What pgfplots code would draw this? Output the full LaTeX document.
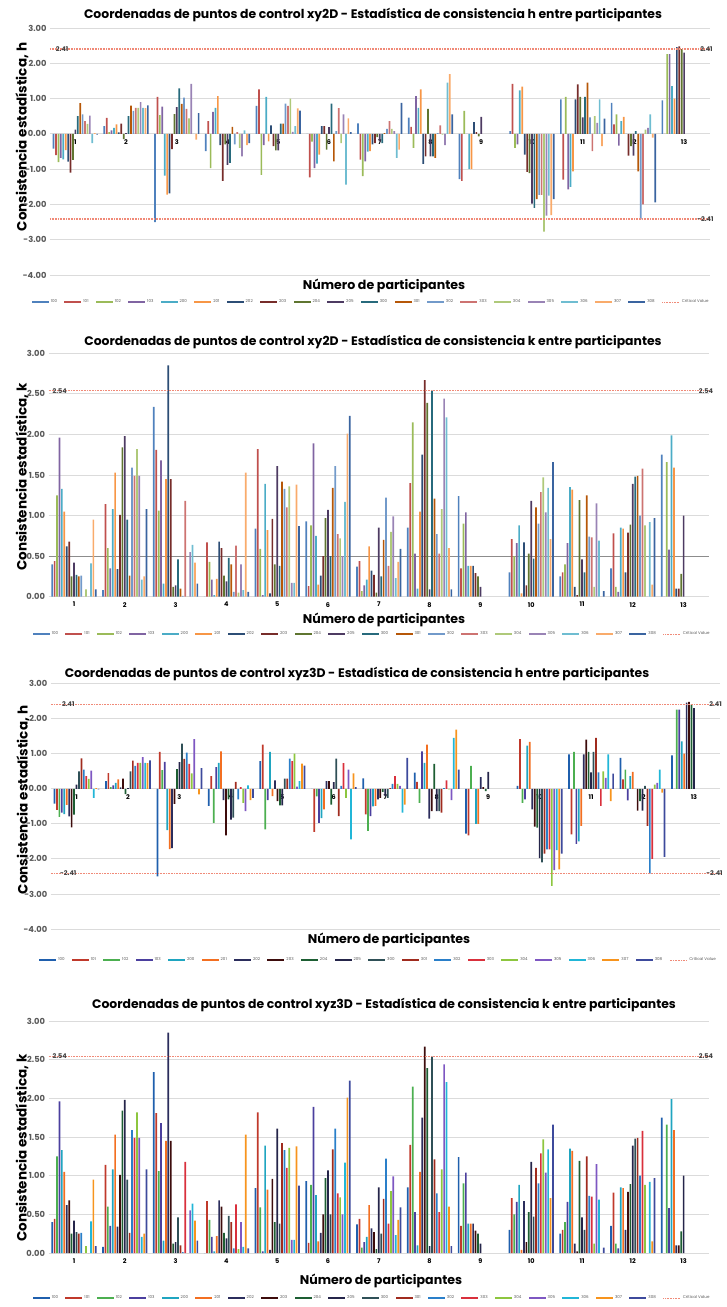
\documentclass[border=0pt]{standalone}
\usepackage{fontspec}
\setmainfont{Poppins}
\usepackage{pgfplots}
\usepackage{pgfplotstable}
\pgfplotsset{compat=1.18}

% palette A (panels 1 and 2)
\definecolor{a100}{HTML}{4F81BD}\definecolor{a101}{HTML}{C0504D}\definecolor{a102}{HTML}{9BBB59}
\definecolor{a103}{HTML}{8064A2}\definecolor{a200}{HTML}{4BACC6}\definecolor{a201}{HTML}{F79646}
\definecolor{a202}{HTML}{2C4D75}\definecolor{a203}{HTML}{772C2A}\definecolor{a204}{HTML}{5F7530}
\definecolor{a205}{HTML}{4D3B62}\definecolor{a300}{HTML}{276A7C}\definecolor{a301}{HTML}{B65708}
\definecolor{a302}{HTML}{729ACA}\definecolor{a303}{HTML}{CD7371}\definecolor{a304}{HTML}{AFC97A}
\definecolor{a305}{HTML}{9983B5}\definecolor{a306}{HTML}{6FBDD1}\definecolor{a307}{HTML}{F9AB6B}
\definecolor{a308}{HTML}{3A64A0}
% palette B (panels 3 and 4)
\definecolor{b100}{HTML}{1F5FAD}\definecolor{b101}{HTML}{C0392B}\definecolor{b102}{HTML}{4CAF50}
\definecolor{b103}{HTML}{4B3F9E}\definecolor{b200}{HTML}{1FA5C0}\definecolor{b201}{HTML}{F36F21}
\definecolor{b202}{HTML}{2B2D5C}\definecolor{b203}{HTML}{3D0C0C}\definecolor{b204}{HTML}{1D5E33}
\definecolor{b205}{HTML}{25254A}\definecolor{b300}{HTML}{2F5057}\definecolor{b301}{HTML}{A02B1E}
\definecolor{b302}{HTML}{2A7FC9}\definecolor{b303}{HTML}{D9303C}\definecolor{b304}{HTML}{8DC63F}
\definecolor{b305}{HTML}{7E57C2}\definecolor{b306}{HTML}{21B6D7}\definecolor{b307}{HTML}{F7941D}
\definecolor{b308}{HTML}{3D4A9C}
\definecolor{crit}{HTML}{F08A78}
\definecolor{ticktxt}{HTML}{595959}

\pgfplotstableread{
g s100 s101 s102 s103 s200 s201 s202 s203 s204 s205 s300 s301 s302 s303 s304 s305 s306 s307 s308
1 -0.42 -0.60 -0.80 -0.68 -0.72 -0.46 -0.79 -1.10 -0.74 0.12 0.50 0.87 0.55 0.36 0.28 0.52 -0.26 0.02 -0.02
2 0.22 0.45 0.05 0.10 0.17 0.27 0.04 0.29 -0.15 0.02 0.50 0.80 0.65 0.74 0.74 0.90 0.74 0.73 0.81
3 -2.50 1.05 0.53 0.77 -1.18 -1.72 -1.69 -0.43 0.56 0.76 1.29 0.85 1.03 0.71 0.44 1.42 0.00 -0.16 0.59
4 -0.49 0.36 -0.97 0.62 0.74 1.07 -0.32 -1.33 -0.30 -0.88 -0.82 0.20 -0.30 0.05 -0.40 -0.64 0.10 -0.32 -0.26
5 0.79 1.26 -1.16 -0.32 1.05 -0.21 0.24 -0.35 -0.47 -0.47 0.29 0.29 0.86 0.79 1.00 0.06 0.22 0.72 0.66
6 0.00 -1.23 -0.22 -0.97 -0.84 -0.59 0.22 0.22 -0.45 0.19 0.86 -0.78 0.08 0.73 -0.26 0.55 -1.44 0.44 0.05
7 0.30 -0.73 -1.20 -0.78 -0.50 -0.49 -0.30 -0.26 -0.09 -0.21 -0.26 0.02 0.14 0.36 0.14 0.08 -0.68 -0.45 0.88
8 0.46 0.20 -0.40 1.07 0.74 1.26 -0.85 -0.64 0.71 -0.64 -0.64 -0.68 0.02 0.24 -0.02 -0.32 1.45 1.69 0.55
9 -1.28 -1.33 0.65 0.00 -1.00 -1.00 0.33 0.05 -0.07 0.48 nan nan nan nan nan nan nan nan nan
10 0.08 1.42 -0.40 -0.30 1.23 1.34 -0.59 -1.08 -1.11 -1.98 -2.10 -1.85 -1.73 -1.73 -2.77 -2.32 -1.75 -2.30 -1.85
11 0.98 -1.30 1.05 -1.57 -1.50 -1.06 0.98 1.40 1.05 0.47 1.05 1.45 0.47 -0.49 0.50 0.31 0.98 -0.35 0.43
12 0.88 0.27 0.55 -0.33 0.36 0.48 0.00 -0.62 -0.35 -0.62 0.08 -1.06 -2.42 -2.00 0.12 0.17 0.55 -0.11 -1.94
13 0.95 0.00 2.26 2.26 1.35 1.00 2.46 2.48 2.40 2.30 nan nan nan nan nan nan nan nan nan
}\hdata

\pgfplotstableread{
g s100 s101 s102 s103 s200 s201 s202 s203 s204 s205 s300 s301 s302 s303 s304 s305 s306 s307 s308
1 0.40 0.44 1.25 1.96 1.33 1.05 0.62 0.68 0.25 0.42 0.27 0.25 0.26 0.00 0.09 0.00 0.41 0.95 0.09
2 0.08 1.14 0.60 0.35 1.08 1.53 0.34 1.01 1.84 1.98 0.95 0.26 1.59 1.49 1.82 1.49 0.21 0.25 1.08
3 2.34 1.81 1.06 1.68 0.16 1.45 2.85 1.45 0.12 0.14 0.46 0.10 0.01 1.18 0.00 0.55 0.64 0.42 0.16
4 0.00 0.67 0.43 0.21 0.02 0.22 0.68 0.60 0.26 0.19 0.48 0.40 0.06 0.63 0.05 0.40 0.08 1.53 0.06
5 0.84 1.82 0.59 0.02 1.39 0.82 0.04 0.96 0.40 1.61 0.38 1.42 1.33 1.10 1.36 0.17 0.17 1.38 0.87
6 0.93 0.13 0.88 1.89 0.75 0.15 0.26 0.50 0.97 1.07 0.50 1.34 1.61 0.77 0.72 0.50 1.17 2.01 2.23
7 0.37 0.44 0.07 0.14 0.21 0.62 0.32 0.27 0.05 0.85 0.25 0.70 1.22 0.38 0.80 0.99 0.23 0.43 0.59
8 0.85 1.40 2.15 0.53 0.10 1.05 1.75 2.67 2.39 0.09 2.54 1.21 0.77 0.53 1.08 2.44 2.21 0.60 0.09
9 1.24 0.35 0.90 1.04 0.38 0.38 0.38 0.29 0.25 0.12 nan nan nan nan nan nan nan nan nan
10 0.30 0.71 0.50 0.66 0.88 0.04 0.67 0.14 0.53 1.18 0.47 1.10 0.90 1.29 1.47 1.04 1.34 0.71 1.66
11 0.25 0.30 0.40 0.66 1.35 1.32 0.12 0.02 1.19 0.46 0.30 1.25 0.74 0.73 0.12 1.15 0.69 0.00 0.07
12 0.35 0.78 0.12 0.06 0.85 0.84 0.30 0.79 0.89 1.39 1.48 1.49 1.00 1.58 0.88 0.00 0.92 0.15 0.97
13 1.75 0.00 1.66 0.58 1.99 1.59 0.10 0.10 0.28 1.00 nan nan nan nan nan nan nan nan nan
}\kdata

\pgfplotscreateplotcyclelist{pala}{
{fill=a100,draw=none},{fill=a101,draw=none},{fill=a102,draw=none},{fill=a103,draw=none},
{fill=a200,draw=none},{fill=a201,draw=none},{fill=a202,draw=none},{fill=a203,draw=none},
{fill=a204,draw=none},{fill=a205,draw=none},{fill=a300,draw=none},{fill=a301,draw=none},
{fill=a302,draw=none},{fill=a303,draw=none},{fill=a304,draw=none},{fill=a305,draw=none},
{fill=a306,draw=none},{fill=a307,draw=none},{fill=a308,draw=none}}
\pgfplotscreateplotcyclelist{palb}{
{fill=b100,draw=none},{fill=b101,draw=none},{fill=b102,draw=none},{fill=b103,draw=none},
{fill=b200,draw=none},{fill=b201,draw=none},{fill=b202,draw=none},{fill=b203,draw=none},
{fill=b204,draw=none},{fill=b205,draw=none},{fill=b300,draw=none},{fill=b301,draw=none},
{fill=b302,draw=none},{fill=b303,draw=none},{fill=b304,draw=none},{fill=b305,draw=none},
{fill=b306,draw=none},{fill=b307,draw=none},{fill=b308,draw=none}}

\tikzset{vlab/.style={font=\fontsize{6.5}{7}\selectfont\bfseries, text=black!75}}
\pgfplotsset{
 panel/.style={
   scale only axis, xmin=0.5, xmax=13.5,
   ybar=0.72pt, bar width=1.7pt,
   axis x line=middle, axis y line=left, axis line style={draw=none},
   major tick length=0pt,
   xtick={1,...,13},
   /pgf/number format/assume math mode=true,
   xticklabel style={font=\fontsize{6.5}{7}\selectfont\bfseries, text=black, yshift=-2pt,
      /pgf/number format/assume math mode=true},
   yticklabel style={font=\fontsize{8.3}{9}\selectfont\bfseries, text=ticktxt,
      /pgf/number format/fixed, /pgf/number format/fixed zerofill,
      /pgf/number format/precision=2, /pgf/number format/assume math mode=true},
   ymajorgrids, grid style={draw=black!14, line width=0.8pt},
   legend style={draw=none, fill=none, font=\fontsize{4}{5}\selectfont, text=ticktxt,
      legend columns=20, anchor=center,
      /tikz/every even column/.append style={column sep=5.3pt}},
   legend image code/.code={\fill[##1] (0pt,-1.3pt) rectangle (17pt,1.3pt);},
   clip=false,
 },
 critline/.style={sharp plot, crit, line width=1.5pt, dash pattern=on 1pt off 0.6pt,
   legend image code/.code={\draw[##1, line width=0.8pt] (0pt,0pt) -- (17pt,0pt);}},
}
\newcommand{\bars}[1]{\pgfplotsinvokeforeach{100,101,102,103,200,201,202,203,204,205,300,301,302,303,304,305,306,307,308}{\addplot table[x=g,y=s##1]{#1};}}
\newcommand{\leg}{\legend{100,101,102,103,200,201,202,203,204,205,300,301,302,303,304,305,306,307,308,Critical Value}}
\newcommand{\ttl}[1]{\fontsize{12.4}{14}\selectfont\bfseries #1}
\newcommand{\ylab}[1]{\fontsize{13.5}{15}\selectfont\bfseries #1}
\newcommand{\xlab}{\fontsize{12.6}{14}\selectfont\bfseries Número de participantes}

\begin{document}
\begin{tikzpicture}
\path[use as bounding box] (0pt,0pt) rectangle (727pt,-1307pt);

% ---------- Panel 1 ----------
\node at (373pt,-15pt) {\ttl{Coordenadas de puntos de control xy2D - Estadística de consistencia h entre participantes}};
\node[rotate=90] at (22pt,-137pt) {\ylab{Consistencia estadística, h}};
\node at (384pt,-286pt) {\xlab};
\begin{axis}[panel, cycle list name=pala, at={(50pt,-275pt)}, anchor=south west,
  width=659.5pt, height=247pt, ymin=-4, ymax=3, ytick={-4,-3,...,3},
  legend style={at={(axis description cs:0.487,-0.109)}}]
\bars{\hdata}
\addplot[critline] coordinates {(0.5,2.41) (13.5,2.41)};
\addplot[critline, forget plot] coordinates {(0.5,-2.41) (13.5,-2.41)};
\leg
\node[vlab] at (axis cs:0.74,2.41) {2.41};
\node[vlab] at (axis cs:13.44,2.41) {2.41};
\node[vlab] at (axis cs:13.42,-2.41) {-2.41};
\end{axis}

% ---------- Panel 2 ----------
\node at (373pt,-342pt) {\ttl{Coordenadas de puntos de control xy2D - Estadística de consistencia k entre participantes}};
\node[rotate=90] at (22pt,-477pt) {\ylab{Consistencia estadística, k}};
\node at (384pt,-620pt) {\xlab};
\begin{axis}[panel, cycle list name=pala, at={(48.6pt,-596.7pt)}, anchor=south west,
  width=660.4pt, height=243.4pt, ymin=0, ymax=3, ytick={0,0.5,...,3},
  extra y ticks={0.5}, extra y tick labels={}, extra y tick style={grid style={draw=black!45, line width=0.8pt}},
  legend style={at={(axis description cs:0.49,-0.153)}}]
\bars{\kdata}
\addplot[critline] coordinates {(0.5,2.54) (13.5,2.54)};
\leg
\node[vlab] at (axis cs:0.72,2.54) {2.54};
\node[vlab] at (axis cs:13.44,2.54) {2.54};
\end{axis}

% ---------- Panel 3 ----------
\node at (357pt,-674pt) {\ttl{Coordenadas de puntos de control xyz3D - Estadística de consistencia h entre participantes}};
\node[rotate=90] at (23pt,-800pt) {\ylab{Consistencia estadística, h}};
\node at (389pt,-940pt) {\xlab};
\begin{axis}[panel, cycle list name=palb, at={(50.8pt,-929pt)}, anchor=south west,
  width=668.9pt, height=245.4pt, ymin=-4, ymax=3, ytick={-4,-3,...,3},
  bar width=1.73pt,
  legend style={at={(axis description cs:0.49,-0.126)}}]
\bars{\hdata}
\addplot[critline] coordinates {(0.5,2.41) (13.5,2.41)};
\addplot[critline, forget plot] coordinates {(0.5,-2.41) (13.5,-2.41)};
\leg
\node[vlab] at (axis cs:0.84,2.41) {2.41};
\node[vlab] at (axis cs:0.84,-2.41) {-2.41};
\node[vlab] at (axis cs:13.42,2.41) {2.41};
\node[vlab] at (axis cs:13.40,-2.41) {-2.41};
\end{axis}

% ---------- Panel 4 ----------
\node at (384pt,-1005pt) {\ttl{Coordenadas de puntos de control xyz3D - Estadística de consistencia k entre participantes}};
\node[rotate=90] at (22pt,-1148pt) {\ylab{Consistencia estadística, k}};
\node at (381pt,-1281pt) {\xlab};
\begin{axis}[panel, cycle list name=palb, at={(48.6pt,-1253pt)}, anchor=south west,
  width=660.4pt, height=232pt, ymin=0, ymax=3, ytick={0,0.5,...,3},
  legend style={at={(axis description cs:0.49,-0.194)}}]
\bars{\kdata}
\addplot[critline] coordinates {(0.5,2.54) (13.5,2.54)};
\leg
\node[vlab] at (axis cs:0.72,2.54) {2.54};
\node[vlab] at (axis cs:13.44,2.54) {2.54};
\end{axis}
\end{tikzpicture}
\end{document}
